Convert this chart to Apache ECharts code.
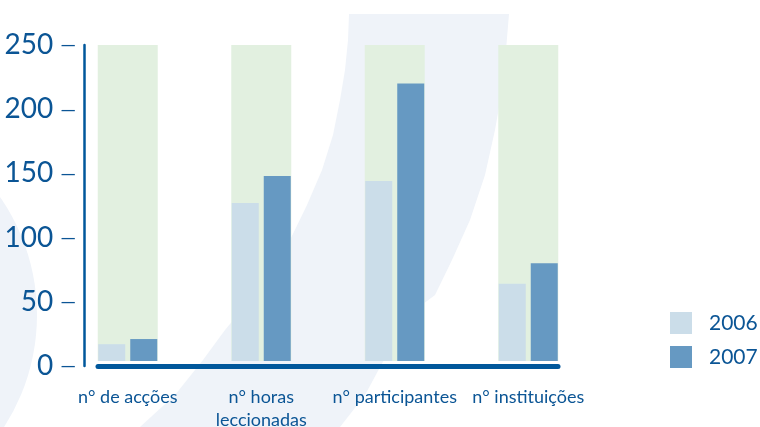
<!DOCTYPE html>
<html>
<head>
<meta charset="utf-8">
<script src="https://cdn.jsdelivr.net/npm/echarts@6/dist/echarts.min.js"></script>
<style>
html,body{margin:0;padding:0;background:#ffffff;}
#chart{width:760px;height:427px;}
</style>
</head>
<body>
<div id="chart"></div>
<script>
// ---- data ----
var categories = ['n° de acções', 'n° horas\nleccionadas', 'n° participantes', 'n° instituições'];
var values2006 = [17, 127, 144, 64];
var values2007 = [21, 148, 220, 80];
var backgroundRange = [250, 250, 250, 250];
var seriesNames = ['2006', '2007'];
var yMin = 0, yMax = 250, yStep = 50;

// ---- styles ----
var BLUE_TEXT = '#0b5595';
var AXIS_BLUE = '#00579b';
var C2006 = '#cbdde9';
var C2007 = '#6699c2';
var GREEN = '#e2f0e0';
var SWOOSH = '#eff3f9';
var FONT = 'Lato';

var chart = echarts.init(document.getElementById('chart'), null, {renderer: 'canvas'});

var option = {
  backgroundColor: '#ffffff',
  animation: false,
  textStyle: {fontFamily: FONT},
  graphic: [
    {
      type: 'circle', z: -10, silent: true,
      shape: {cx: -170, cy: 315, r: 207},
      style: {fill: SWOOSH}
    },
    {
      type: 'polygon', z: -10, silent: true,
      shape: {points: [
        [349,14],[348,40],[345,70],[340,100],[333,135],[322,170],[307,205],[290,240],[270,275],[250,300],[225,330],[203,360],[175,395],[140,427],
        [340,427],[365,395],[392,345],[415,310],[435,295],[452,260],[470,220],[485,175],[495,130],[502,90],[506,50],[509,14]
      ]},
      style: {fill: SWOOSH}
    }
  ],
  legend: {
    orient: 'vertical',
    left: 670,
    top: 312,
    padding: 0,
    itemWidth: 22,
    itemHeight: 22,
    itemGap: 12,
    icon: 'rect',
    data: seriesNames,
    textStyle: {color: BLUE_TEXT, fontSize: 21, fontFamily: FONT, padding: [0, 0, 0, 12]}
  },
  grid: [
    {left: 61, right: 165, top: 45, bottom: 61, outerBoundsMode: 'none', containLabel: false},
    {left: 61, right: 165, top: 45, bottom: 66, outerBoundsMode: 'none', containLabel: false},
    {left: 98, right: 202, top: 45, bottom: 61, outerBoundsMode: 'none', containLabel: false}
  ],
  xAxis: [
    {
      gridIndex: 0, type: 'category', data: categories,
      axisLine: {show: false}, axisTick: {show: false},
      axisLabel: {color: BLUE_TEXT, fontSize: 18, fontFamily: FONT, margin: 20, lineHeight: 23, interval: 0}
    },
    {
      gridIndex: 1, type: 'category', data: categories,
      axisLine: {show: false}, axisTick: {show: false}, axisLabel: {show: false}
    },
    {
      gridIndex: 1, type: 'category', data: categories,
      axisLine: {show: false}, axisTick: {show: false}, axisLabel: {show: false}
    },
    {
      gridIndex: 2, type: 'value', min: 0, max: 1,
      offset: 2.5,
      axisLine: {show: true, lineStyle: {color: AXIS_BLUE, width: 5}},
      axisTick: {show: false}, axisLabel: {show: false}, splitLine: {show: false}
    }
  ],
  yAxis: [
    {
      gridIndex: 0, type: 'value', min: yMin, max: yMax, interval: yStep,
      offset: -23,
      axisLine: {show: true, lineStyle: {color: AXIS_BLUE, width: 2.5}},
      axisTick: {show: false},
      splitLine: {show: false},
      axisLabel: {
        color: BLUE_TEXT, fontSize: 28, fontFamily: FONT, margin: 8,
        formatter: function (v) { return '{n|' + v + '}{d|—}'; },
        rich: {
          n: {fontSize: 28, fontFamily: FONT, color: BLUE_TEXT, verticalAlign: 'middle'},
          d: {fontSize: 20, fontFamily: FONT, color: BLUE_TEXT, verticalAlign: 'middle', padding: [0, 0, 0, 7]}
        }
      }
    },
    {
      gridIndex: 1, type: 'value', min: 3.9, max: yMax,
      axisLine: {show: false}, axisTick: {show: false}, axisLabel: {show: false}, splitLine: {show: false}
    },
    {
      gridIndex: 2, type: 'value', min: 0, max: 1,
      axisLine: {show: false}, axisTick: {show: false}, axisLabel: {show: false}, splitLine: {show: false}
    }
  ],
  series: [
    {
      name: 'range', type: 'bar', xAxisIndex: 2, yAxisIndex: 1,
      data: backgroundRange, barWidth: 60, z: 1, silent: true,
      itemStyle: {color: GREEN}
    },
    {
      name: seriesNames[0], type: 'bar', xAxisIndex: 1, yAxisIndex: 1,
      data: values2006, barWidth: 27, barGap: '18.5%', z: 3,
      itemStyle: {color: C2006}
    },
    {
      name: seriesNames[1], type: 'bar', xAxisIndex: 1, yAxisIndex: 1,
      data: values2007, barWidth: 27, barGap: '18.5%', z: 3,
      itemStyle: {color: C2007}
    }
  ]
};

chart.setOption(option);
</script>
</body>
</html>
